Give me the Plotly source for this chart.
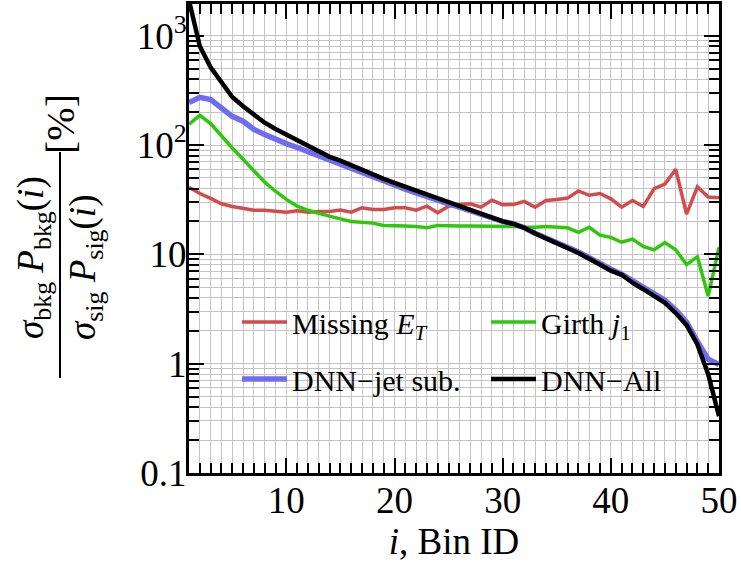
import plotly.graph_objects as go

bins = list(range(1, 51))

missing_et = [41, 36, 32.5, 29, 27.4, 26.4, 25.3, 25.3, 25, 24.3,
              25, 24.3, 24.7, 24.7, 25.4, 24.3, 26.7, 25.7, 25.7, 26.7,
              26.7, 25.4, 27.6, 24, 27.6, 28.6, 29, 27, 31.3, 28.5,
              28.6, 30.5, 27, 31.1, 31.8, 32.7, 38, 34.7, 36, 32.2,
              27, 31.1, 27.4, 40, 44, 60, 23.3, 41.5, 33.4, 33]

girth_j1 = [155, 187, 157, 121, 94, 74, 57.6, 45.7, 37.8, 31.8,
            27.6, 25.3, 23.7, 22.2, 21.1, 20, 19.5, 19.3, 18.4, 18.4,
            18.2, 18, 17.5, 18.4, 18.2, 18.2, 18.2, 18.2, 18, 18,
            18, 17.8, 17.7, 18, 17.7, 17.5, 15.9, 17.7, 15, 14.3,
            12.9, 13.8, 11.8, 11, 12.8, 11, 8.05, 9.5, 4.15, 11.6]

dnn_jetsub = [245, 273, 261, 220, 183, 165, 139, 125, 112, 103,
              95, 87, 79, 72, 65, 60, 55, 50, 46, 42.5,
              39.5, 36.5, 33.5, 31.3, 29, 27, 25, 23.3, 21.5, 20,
              19, 17.5, 15.6, 14.2, 13, 11.8, 10.5, 9.3, 8.2, 7.3,
              6.6, 5.7, 5, 4.3, 3.8, 3.1, 2.4, 1.6, 1.1, 0.98]

dnn_all = [2100, 800, 515, 370, 275, 226, 190, 160, 140, 125,
           112, 100, 88, 78, 72, 65, 59, 54, 49, 45,
           41.5, 38, 35, 32, 29.5, 27.5, 25.5, 23.5, 21.5, 20,
           19, 17.5, 15.5, 14, 12.8, 11.6, 10.3, 9.1, 8, 7.1,
           6.5, 5.5, 4.8, 4.1, 3.6, 2.9, 2.25, 1.5, 0.8, 0.33]

y_tickvals = [0.1, 1, 10, 100, 1000]
y_ticktext = ["0.1", "1", "10", "10<sup>2</sup>", "10<sup>3</sup>"]

FONT = "Liberation Serif"
RED = "#D44B4B"
GREEN = "#2DC80A"
BLUE = "#6F6CF0"
BLACK = "#000000"
GRID = "#C4C4C4"

L, R, T, B = 189, 22, 4, 97
W, H = 741, 570
pw, ph = W - L - R, H - T - B

def px_to_paper(px, py):
    return (px - L) / pw, (H - B - py) / ph

fig = go.Figure()
fig.add_trace(go.Scatter(x=bins, y=missing_et, mode="lines", name="Missing <i>E</i><sub><i>T</i></sub>",
                         line=dict(color=RED, width=3.5), legend="legend"))
fig.add_trace(go.Scatter(x=bins, y=girth_j1, mode="lines", name="Girth <i>j</i><sub>1</sub>",
                         line=dict(color=GREEN, width=3.5), legend="legend2"))
fig.add_trace(go.Scatter(x=bins, y=dnn_jetsub, mode="lines", name="DNN\u2212jet sub.",
                         line=dict(color=BLUE, width=5.5), legend="legend3"))
fig.add_trace(go.Scatter(x=bins, y=dnn_all, mode="lines", name="DNN\u2212All",
                         line=dict(color=BLACK, width=4.5), legend="legend4"))

leg_common = dict(orientation="v", xanchor="left", yanchor="middle",
                  bgcolor="rgba(0,0,0,0)", font=dict(family=FONT, size=30, color="black"),
                  itemwidth=45)
lx1, ly1 = px_to_paper(237, 322)
lx2, ly2 = px_to_paper(486, 379)

fig.update_layout(
    width=W, height=H,
    margin=dict(l=L, r=R, t=T, b=B),
    paper_bgcolor="white", plot_bgcolor="white",
    font=dict(family=FONT, size=37, color="black"),
    legend=dict(x=lx1, y=ly1, **leg_common),
    legend2=dict(x=lx2, y=ly1, **leg_common),
    legend3=dict(x=lx1, y=ly2, **leg_common),
    legend4=dict(x=lx2, y=ly2, **leg_common),
    showlegend=True,
    hovermode=False,
)

fig.update_xaxes(
    range=[1, 50], tick0=0, dtick=10, automargin=False,
    showline=True, linecolor="black", linewidth=3, mirror="allticks",
    ticks="inside", ticklen=15, tickwidth=2, tickcolor="black",
    showgrid=True, gridcolor=GRID, gridwidth=1,
    zeroline=False, ticklabelstandoff=-7, ticklabeloverflow="allow",
    tickfont=dict(family=FONT, size=37, color="black"),
    minor=dict(dtick=1, ticks="inside", ticklen=10, tickwidth=2, tickcolor="black",
               showgrid=True, gridcolor=GRID, gridwidth=1),
    title=dict(text="<i>i</i>, Bin ID", font=dict(family=FONT, size=37, color="black"), standoff=0),
)

fig.update_yaxes(
    type="log", range=[-1, 3.29], automargin=False,
    tickmode="array", tickvals=y_tickvals, ticktext=y_ticktext,
    showline=True, linecolor="black", linewidth=3, mirror="allticks",
    ticks="inside", ticklen=15, tickwidth=2, tickcolor="black",
    showgrid=True, gridcolor=GRID, gridwidth=1,
    zeroline=False, ticklabelstandoff=-8,
    tickfont=dict(family=FONT, size=37, color="black"),
    minor=dict(dtick="D1", ticks="inside", ticklen=10, tickwidth=2, tickcolor="black",
               showgrid=True, gridcolor=GRID, gridwidth=1),
)

# y-axis title as a fraction
nx, ny = px_to_paper(33, 258)
dx, dy = px_to_paper(85, 268)
fx, fy1 = px_to_paper(60, 152)
_, fy2 = px_to_paper(60, 378)
px_, py_ = px_to_paper(60, 124)
tf = dict(family=FONT, size=37, color="black")
fig.add_annotation(xref="paper", yref="paper", x=nx, y=ny, xanchor="center", yanchor="middle",
                   text="<i>σ</i><sub>bkg</sub> <i>P</i><sub>bkg</sub>(<i>i</i>)", textangle=-90,
                   showarrow=False, font=tf)
fig.add_annotation(xref="paper", yref="paper", x=dx, y=dy, xanchor="center", yanchor="middle",
                   text="<i>σ</i><sub>sig</sub> <i>P</i><sub>sig</sub>(<i>i</i>)", textangle=-90,
                   showarrow=False, font=tf)
fig.add_annotation(xref="paper", yref="paper", x=px_, y=py_, xanchor="center", yanchor="middle",
                   text="[%]", textangle=-90, showarrow=False, font=dict(family=FONT, size=40, color="black"))
fig.add_shape(type="line", xref="paper", yref="paper", x0=fx, x1=fx, y0=fy1, y1=fy2,
              line=dict(color="black", width=2))

fig.write_html("out.html", config={"displayModeBar": False},
               post_script="document.body.style.margin='0';")
